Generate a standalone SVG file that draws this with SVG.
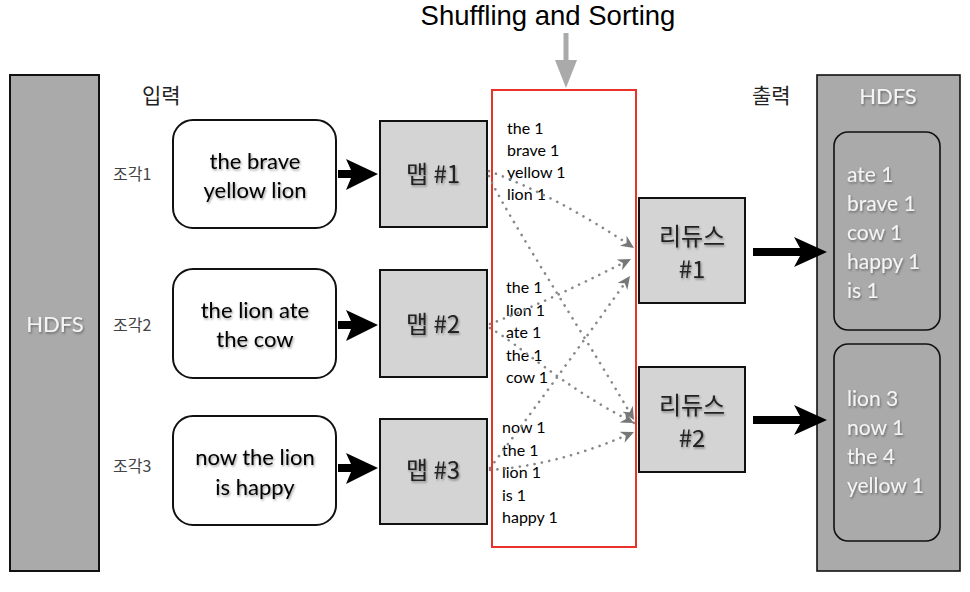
<svg xmlns="http://www.w3.org/2000/svg" width="970" height="592" viewBox="0 0 970 592">
<style>
.hdfs{fill:#aaaaaa;stroke:#111;stroke-width:2}
.inbox{fill:#fff;stroke:#111;stroke-width:2}
.gbox{fill:#d4d4d4;stroke:#111;stroke-width:2}
.outbox{fill:#aaaaaa;stroke:#111;stroke-width:1.6}
.t{font-family:Lato,"Noto Sans CJK KR",sans-serif;fill:#000}
.k{font-family:"Noto Sans CJK KR",Lato,sans-serif;fill:#222}
.w{font-family:Lato,"Noto Sans CJK KR",sans-serif;fill:#f4f4f4}
.big{font-size:22px;text-anchor:middle}
.sm{font-size:16px}
.dot{fill:none;stroke:#888;stroke-width:2.6;stroke-dasharray:0.1 7.4;stroke-linecap:round}
.blk{fill:#000}
</style>
<defs>
<filter id="sh" x="-10%" y="-20%" width="130%" height="150%">
<feDropShadow dx="1" dy="1.5" stdDeviation="1.2" flood-color="#000" flood-opacity="0.4"/>
</filter>
<marker id="ah" markerUnits="userSpaceOnUse" markerWidth="16" markerHeight="14" refX="13" refY="6" orient="auto">
<path d="M0,0 L13,6 L0,12 L4,6 Z" fill="#777"/>
</marker>
</defs>

<text x="548" y="25" font-family="'Liberation Sans',Arial,sans-serif" font-size="27.5" text-anchor="middle" fill="#000">Shuffling and Sorting</text>
<g id="shuffle-arrow">
<rect x="563.5" y="33" width="5" height="28" fill="#aaa"/>
<polygon points="555,60 577,60 566,88" fill="#aaa"/>
</g>

<g id="hdfs-in">
<rect class="hdfs" x="10" y="75" width="89" height="496"/>
<text class="w" x="55" y="332" font-size="22" text-anchor="middle" filter="url(#sh)">HDFS</text>
</g>
<text class="k" x="142" y="103" font-size="21">입력</text>
<text class="k" x="752" y="103" font-size="21">출력</text>

<g id="split1">
<text class="k" x="113" y="180" font-size="16" style="fill:#444">조각1</text>
<rect class="inbox" x="173" y="120" width="163" height="108" rx="20"/>
<text class="t big" x="255" y="169" filter="url(#sh)">the brave</text>
<text class="t big" x="255" y="198" filter="url(#sh)">yellow lion</text>
</g>
<g id="split2">
<text class="k" x="113" y="331" font-size="16" style="fill:#444">조각2</text>
<rect class="inbox" x="173" y="269" width="163" height="109" rx="20"/>
<text class="t big" x="255" y="318" filter="url(#sh)">the lion ate</text>
<text class="t big" x="255" y="347" filter="url(#sh)">the cow</text>
</g>
<g id="split3">
<text class="k" x="113" y="472" font-size="16" style="fill:#444">조각3</text>
<rect class="inbox" x="173" y="416" width="163" height="109" rx="20"/>
<text class="t big" x="255" y="465" filter="url(#sh)">now the lion</text>
<text class="t big" x="255" y="495" filter="url(#sh)">is happy</text>
</g>

<g id="map1">
<rect class="gbox" x="380" y="121" width="107" height="106"/>
<text class="k" x="433" y="183" font-size="24" text-anchor="middle" filter="url(#sh)">맵 #1</text>
</g>
<g id="map2">
<rect class="gbox" x="380" y="270" width="107" height="107"/>
<text class="k" x="433" y="333" font-size="24" text-anchor="middle" filter="url(#sh)">맵 #2</text>
</g>
<g id="map3">
<rect class="gbox" x="380" y="419" width="107" height="105"/>
<text class="k" x="433" y="479" font-size="24" text-anchor="middle" filter="url(#sh)">맵 #3</text>
</g>

<g id="shuffle">
<rect x="492" y="90" width="144" height="457" fill="none" stroke="#e8322a" stroke-width="2"/>
<g class="t sm">
<text x="507" y="134">the 1</text>
<text x="507" y="156">brave 1</text>
<text x="507" y="178">yellow 1</text>
<text x="507" y="200">lion 1</text>
<text x="506" y="293">the 1</text>
<text x="506" y="316">lion 1</text>
<text x="506" y="338">ate 1</text>
<text x="506" y="361">the 1</text>
<text x="506" y="383">cow 1</text>
<text x="502" y="433">now 1</text>
<text x="502" y="456">the 1</text>
<text x="502" y="478">lion 1</text>
<text x="502" y="501">is 1</text>
<text x="502" y="523">happy 1</text>
</g>
</g>

<g id="reduce1">
<rect class="gbox" x="639" y="198" width="106" height="105"/>
<text class="k" x="692" y="245" font-size="24" text-anchor="middle" filter="url(#sh)">리듀스</text>
<text class="k" x="692" y="278" font-size="24" text-anchor="middle" filter="url(#sh)">#1</text>
</g>
<g id="reduce2">
<rect class="gbox" x="639" y="367" width="106" height="105"/>
<text class="k" x="692" y="414" font-size="24" text-anchor="middle" filter="url(#sh)">리듀스</text>
<text class="k" x="692" y="447" font-size="24" text-anchor="middle" filter="url(#sh)">#2</text>
</g>

<g id="hdfs-out">
<rect class="hdfs" x="817" y="75" width="143" height="496" style="stroke-width:1.6"/>
<text class="w" x="888" y="104" font-size="22" text-anchor="middle" filter="url(#sh)">HDFS</text>
<rect class="outbox" x="834" y="132" width="106" height="198" rx="14"/>
<g class="w" font-size="21" filter="url(#sh)">
<text x="847" y="182">ate 1</text>
<text x="847" y="211">brave 1</text>
<text x="847" y="240">cow 1</text>
<text x="847" y="269">happy 1</text>
<text x="847" y="298">is 1</text>
</g>
<rect class="outbox" x="834" y="344" width="106" height="197" rx="14"/>
<g class="w" font-size="21" filter="url(#sh)">
<text x="847" y="406">lion 3</text>
<text x="847" y="435">now 1</text>
<text x="847" y="464">the 4</text>
<text x="847" y="493">yellow 1</text>
</g>
</g>

<g id="connectors">
<path class="blk" d="M338,170 L351,170 L346,159 L378,174 L346,190 L351,178 L338,178 Z"/>
<path class="blk" d="M338,321 L351,321 L346,310 L378,325 L346,341 L351,329 L338,329 Z"/>
<path class="blk" d="M338,464 L351,464 L346,453 L378,468 L346,484 L351,472 L338,472 Z"/>
<path class="blk" d="M753,248 L800,248 L794,237 L827,252 L794,267 L800,256 L753,256 Z"/>
<path class="blk" d="M753,416 L800,416 L794,405 L827,420 L794,435 L800,424 L753,424 Z"/>
<path class="dot" d="M489,171 Q560,198 634,248" marker-end="url(#ah)"/>
<path class="dot" d="M489,176 C500,205 600,360 634,420" marker-end="url(#ah)"/>
<path class="dot" d="M490,324 Q540,305 631,259" marker-end="url(#ah)"/>
<path class="dot" d="M490,328 C520,345 560,385 634,423" marker-end="url(#ah)"/>
<path class="dot" d="M490,468 Q545,395 630,276" marker-end="url(#ah)"/>
<path class="dot" d="M490,470 Q560,465 634,432" marker-end="url(#ah)"/>
</g>
</svg>
